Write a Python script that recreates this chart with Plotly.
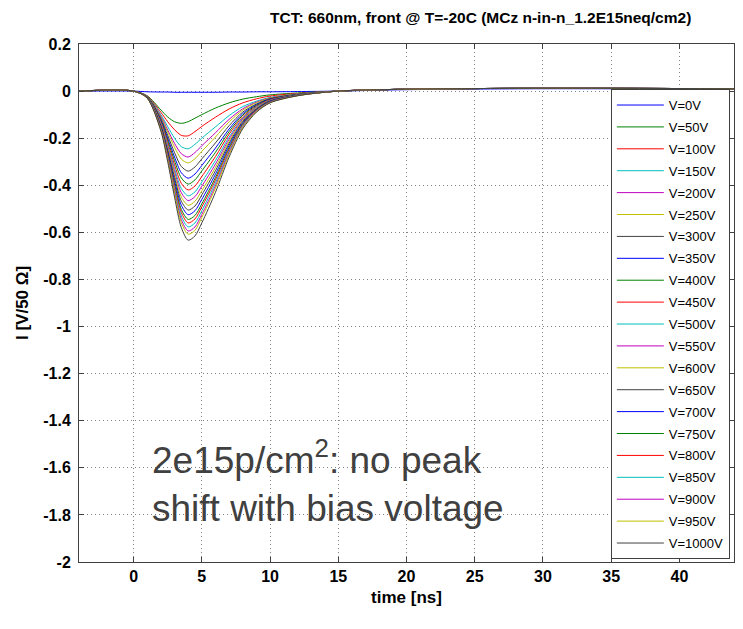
import plotly.graph_objects as go

time_ns = [-4, 0, 1, 2, 2.5, 3, 3.5, 4, 4.5, 5, 6, 7, 8, 9, 10, 12, 15, 20, 30, 44]

series_labels = ["V=0V", "V=50V", "V=100V", "V=150V", "V=200V", "V=250V", "V=300V",
                 "V=350V", "V=400V", "V=450V", "V=500V", "V=550V", "V=600V", "V=650V",
                 "V=700V", "V=750V", "V=800V", "V=850V", "V=900V", "V=950V", "V=1000V"]

i_0V = [0.0, 0.0, -0.003, -0.004, -0.004, -0.005, -0.005, -0.005, -0.005, -0.005, -0.005, -0.004, -0.004, -0.003, -0.003, -0.002, 0.0, 0.006, 0.010, 0.008]
i_50V = [0.0, 0.0, -0.020, -0.080, -0.110, -0.130, -0.137, -0.130, -0.115, -0.100, -0.072, -0.050, -0.034, -0.024, -0.016, -0.008, 0.0, 0.008, 0.012, 0.010]
i_100V = [0.0, 0.0, -0.021, -0.090, -0.130, -0.164, -0.188, -0.190, -0.172, -0.150, -0.111, -0.076, -0.050, -0.033, -0.021, -0.010, 0.0, 0.008, 0.012, 0.010]
i_150V = [0.0, 0.0, -0.022, -0.100, -0.151, -0.200, -0.236, -0.245, -0.226, -0.200, -0.152, -0.104, -0.066, -0.043, -0.027, -0.012, 0.0, 0.008, 0.012, 0.010]
i_200V = [0.0, 0.0, -0.023, -0.106, -0.165, -0.222, -0.266, -0.280, -0.261, -0.232, -0.177, -0.120, -0.075, -0.047, -0.029, -0.013, 0.0, 0.008, 0.012, 0.010]
i_250V = [0.0, 0.0, -0.023, -0.111, -0.174, -0.238, -0.289, -0.305, -0.287, -0.256, -0.195, -0.131, -0.081, -0.050, -0.030, -0.013, 0.0, 0.008, 0.012, 0.010]
i_300V = [0.0, 0.0, -0.024, -0.117, -0.188, -0.261, -0.320, -0.340, -0.322, -0.288, -0.220, -0.147, -0.089, -0.055, -0.032, -0.014, 0.0, 0.008, 0.012, 0.010]
i_350V = [0.0, 0.0, -0.025, -0.122, -0.199, -0.280, -0.347, -0.370, -0.352, -0.316, -0.242, -0.161, -0.096, -0.058, -0.034, -0.015, 0.0, 0.008, 0.012, 0.010]
i_400V = [0.0, 0.0, -0.025, -0.127, -0.209, -0.296, -0.369, -0.395, -0.377, -0.339, -0.260, -0.172, -0.102, -0.061, -0.036, -0.015, 0.0, 0.008, 0.012, 0.010]
i_450V = [0.0, 0.0, -0.026, -0.131, -0.218, -0.313, -0.392, -0.420, -0.403, -0.363, -0.278, -0.183, -0.109, -0.064, -0.037, -0.016, 0.0, 0.008, 0.012, 0.010]
i_500V = [0.0, 0.0, -0.026, -0.136, -0.228, -0.329, -0.414, -0.445, -0.428, -0.386, -0.295, -0.195, -0.115, -0.067, -0.039, -0.016, 0.0, 0.008, 0.012, 0.010]
i_550V = [0.0, 0.0, -0.027, -0.139, -0.236, -0.342, -0.432, -0.465, -0.448, -0.404, -0.310, -0.204, -0.119, -0.070, -0.040, -0.017, 0.0, 0.008, 0.012, 0.010]
i_600V = [0.0, 0.0, -0.027, -0.143, -0.243, -0.355, -0.450, -0.485, -0.468, -0.423, -0.324, -0.213, -0.124, -0.072, -0.041, -0.017, 0.0, 0.008, 0.012, 0.010]
i_650V = [0.0, 0.0, -0.027, -0.147, -0.251, -0.367, -0.468, -0.505, -0.488, -0.441, -0.338, -0.222, -0.129, -0.075, -0.042, -0.017, 0.0, 0.008, 0.012, 0.010]
i_700V = [0.0, 0.0, -0.028, -0.150, -0.259, -0.380, -0.485, -0.525, -0.508, -0.460, -0.353, -0.231, -0.134, -0.077, -0.043, -0.018, 0.0, 0.008, 0.012, 0.010]
i_750V = [0.0, 0.0, -0.028, -0.154, -0.266, -0.393, -0.503, -0.545, -0.528, -0.479, -0.367, -0.240, -0.139, -0.079, -0.045, -0.018, 0.0, 0.008, 0.012, 0.010]
i_800V = [0.0, 0.0, -0.029, -0.157, -0.272, -0.403, -0.516, -0.560, -0.543, -0.492, -0.378, -0.247, -0.142, -0.081, -0.046, -0.019, 0.0, 0.008, 0.012, 0.010]
i_850V = [0.0, 0.0, -0.029, -0.160, -0.279, -0.414, -0.531, -0.577, -0.560, -0.508, -0.390, -0.255, -0.146, -0.083, -0.047, -0.019, 0.0, 0.008, 0.012, 0.010]
i_900V = [0.0, 0.0, -0.029, -0.163, -0.285, -0.425, -0.546, -0.594, -0.577, -0.524, -0.402, -0.262, -0.151, -0.085, -0.048, -0.019, 0.0, 0.008, 0.012, 0.010]
i_950V = [0.0, 0.0, -0.030, -0.166, -0.291, -0.434, -0.559, -0.608, -0.591, -0.537, -0.412, -0.269, -0.154, -0.087, -0.049, -0.020, 0.0, 0.008, 0.012, 0.010]
i_1000V = [0.0, 0.0, -0.030, -0.170, -0.300, -0.450, -0.580, -0.633, -0.615, -0.560, -0.430, -0.280, -0.160, -0.090, -0.050, -0.020, 0.0, 0.008, 0.012, 0.010]

currents = [i_0V, i_50V, i_100V, i_150V, i_200V, i_250V, i_300V, i_350V, i_400V, i_450V,
            i_500V, i_550V, i_600V, i_650V, i_700V, i_750V, i_800V, i_850V, i_900V, i_950V, i_1000V]

color_cycle = ["#0000FF", "#008000", "#FF0000", "#00BFBF", "#BF00BF", "#BFBF00", "#404040"]

x_ticks = [0, 5, 10, 15, 20, 25, 30, 35, 40]
y_ticks = [0.2, 0, -0.2, -0.4, -0.6, -0.8, -1, -1.2, -1.4, -1.6, -1.8, -2]
y_tick_text = ["0.2", "0", "-0.2", "-0.4", "-0.6", "-0.8", "-1", "-1.2", "-1.4", "-1.6", "-1.8", "-2"]

fig = go.Figure()
for k, (lab, ys) in enumerate(zip(series_labels, currents)):
    fig.add_trace(go.Scatter(
        x=time_ns, y=ys, mode="lines", name=lab, legendgroup=lab,
        line=dict(color=color_cycle[k % 7], width=1, shape="spline", smoothing=0.8),
    ))

tick_font = dict(family="Liberation Sans", size=16, color="black")
title_font = dict(family="Liberation Sans", size=17, color="black")
fig.update_layout(
    width=743, height=629,
    margin=dict(l=79, r=9, t=44, b=67),
    paper_bgcolor="white", plot_bgcolor="white",
    title=dict(text="<b>TCT: 660nm, front @ T=-20C (MCz n-in-n_1.2E15neq/cm2)</b>",
               x=0.647, xanchor="center", y=0.972, yanchor="middle",
               font=dict(family="Liberation Sans", size=15.5, color="black")),
    font=dict(family="Liberation Sans", color="black"),
    legend=dict(x=0.812, y=0.913, xanchor="left", yanchor="top",
                bgcolor="white", bordercolor="#404040", borderwidth=1,
                font=dict(family="Liberation Sans", size=13, color="black"),
                tracegroupgap=2, itemwidth=47),
    showlegend=True,
)
fig.update_xaxes(
    range=[-4, 44], tickvals=x_ticks, ticktext=[f"<b>{v}</b>" for v in x_ticks],
    tickfont=tick_font, ticks="inside", ticklen=5, tickcolor="#404040",
    showline=True, linecolor="#404040", linewidth=1, mirror="allticks",
    showgrid=True, gridcolor="#808080", griddash="1px,3px", gridwidth=1, zeroline=False,
    title=dict(text="<b>time [ns]</b>", font=title_font, standoff=6),
)
fig.update_yaxes(
    range=[-2, 0.2], tickvals=y_ticks, ticktext=[f"<b>{v}</b>" for v in y_tick_text],
    tickfont=tick_font, ticks="inside", ticklen=5, tickcolor="#404040", ticklabelstandoff=4,
    showline=True, linecolor="#404040", linewidth=1, mirror="allticks",
    showgrid=True, gridcolor="#808080", griddash="1px,3px", gridwidth=1, zeroline=False,
    title=dict(text="<b>I [V/50 Ω]</b>", font=title_font, standoff=10),
)
fig.add_annotation(text="2e15p/cm<sup>2</sup>: no peak<br>shift with bias voltage",
                   xref="paper", yref="paper", align="left",
                   x=0.108, y=0.155, xanchor="left", yanchor="middle", showarrow=False,
                   font=dict(family="Liberation Sans", size=37, color="#404040"))

fig.write_html("out.html")
